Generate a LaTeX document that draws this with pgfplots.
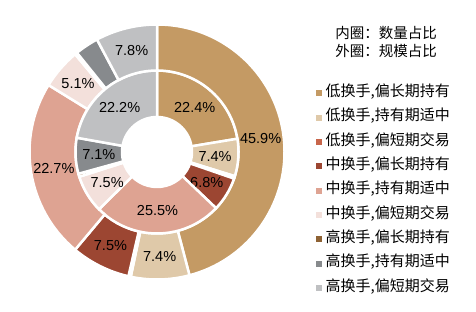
\documentclass[border=0pt]{standalone}
\usepackage{fontspec}
\setmainfont{Liberation Sans}
\newfontfamily\cjk{Noto Sans CJK SC}
\usepackage{pgfplots}
\usepackage{pgfplotstable}
\pgfplotsset{compat=1.18}

\definecolor{s0}{HTML}{C49A64}
\definecolor{s1}{HTML}{DFC9A9}
\definecolor{s2}{HTML}{C8664B}
\definecolor{s3}{HTML}{9C4632}
\definecolor{s4}{HTML}{DEA392}
\definecolor{s5}{HTML}{F3E0DB}
\definecolor{s6}{HTML}{8E6234}
\definecolor{s7}{HTML}{878A8D}
\definecolor{s8}{HTML}{BFC0C2}

% inner ring = count share, outer ring = scale share (percent)
\pgfplotstableread{
id name inner outer
0 低换手,偏长期持有 22.4 45.9
1 低换手,持有期适中 7.4 7.4
2 低换手,偏短期交易 0.5 0.3
3 中换手,偏长期持有 6.8 7.5
4 中换手,持有期适中 25.5 22.7
5 中换手,偏短期交易 7.5 5.1
6 高换手,偏长期持有 0.6 0.3
7 高换手,持有期适中 7.1 3.0
8 高换手,偏短期交易 22.2 7.8
}\donutdata

\begin{document}
\begin{tikzpicture}
\useasboundingbox (0,0) rectangle (476bp,312bp);
\begin{axis}[
  at={(0,0)}, anchor=south west,
  width=476bp, height=312bp, scale only axis,
  xmin=-157, xmax=319, ymin=-160, ymax=152,
  hide axis, clip=false,
  legend cell align=left,
  legend style={at={(axis cs:158.5,66.5)}, anchor=north west,
    draw=none, fill=none, inner sep=0pt, row sep=9.3bp, column sep=4.5bp,
    font=\cjk\fontsize{15bp}{18bp}\selectfont,
    nodes={inner sep=0pt, text height=11bp, text depth=4bp}},
]
\def\cumin{0}
\def\cumout{0}
\pgfplotsforeachungrouped \i in {0,...,8}{%
  \pgfplotstablegetelem{\i}{inner}\of\donutdata \let\vin\pgfplotsretval
  \pgfplotstablegetelem{\i}{outer}\of\donutdata \let\vout\pgfplotsretval
  % inner ring
  \pgfmathsetmacro\aa{90-3.6*\cumin}
  \pgfmathsetmacro\ab{90-3.6*(\cumin+\vin)}
  \pgfmathsetmacro\am{(\aa+\ab)/2}
  \edef\cmd{\noexpand\fill[fill=s\i, draw=white, line width=2.5bp]
    (axis cs:{81.5*cos(\aa)},{81.5*sin(\aa)}) arc[start angle=\aa, end angle=\ab, radius=81.5bp]
    -- (axis cs:{35*cos(\ab)},{35*sin(\ab)}) arc[start angle=\ab, end angle=\aa, radius=35bp] -- cycle;}
  \cmd
  \pgfmathtruncatemacro\show{\vin>=4 ? 1 : 0}
  \ifnum\show=1
    \edef\cmd{\noexpand\node[font=\noexpand\fontsize{14.5bp}{16bp}\noexpand\selectfont, inner sep=0pt]
      at (axis cs:{58.25*cos(\am)},{58.25*sin(\am)}) {\vin\noexpand\%};}
    \cmd
  \fi
  \pgfmathsetmacro\cumin{\cumin+\vin}
  % outer ring
  \pgfmathsetmacro\aa{90-3.6*\cumout}
  \pgfmathsetmacro\ab{90-3.6*(\cumout+\vout)}
  \pgfmathsetmacro\am{(\aa+\ab)/2}
  \edef\cmd{\noexpand\fill[fill=s\i, draw=white, line width=2.5bp]
    (axis cs:{127.5*cos(\aa)},{127.5*sin(\aa)}) arc[start angle=\aa, end angle=\ab, radius=127.5bp]
    -- (axis cs:{81.5*cos(\ab)},{81.5*sin(\ab)}) arc[start angle=\ab, end angle=\aa, radius=81.5bp] -- cycle;}
  \cmd
  \pgfmathtruncatemacro\show{\vout>=4 ? 1 : 0}
  \ifnum\show=1
    \edef\cmd{\noexpand\node[font=\noexpand\fontsize{14.5bp}{16bp}\noexpand\selectfont, inner sep=0pt]
      at (axis cs:{104.5*cos(\am)},{104.5*sin(\am)}) {\vout\noexpand\%};}
    \cmd
  \fi
  \pgfmathsetmacro\cumout{\cumout+\vout}
  % legend
  \pgfplotstablegetelem{\i}{name}\of\donutdata
  \edef\cmd{\noexpand\addlegendimage{legend image code/.code={\noexpand\fill[s\i] (0bp,-2.5bp) rectangle (5bp,2.5bp);}}}
  \cmd
  \addlegendentryexpanded{\pgfplotsretval}
}
\node[font=\cjk\fontsize{14.5bp}{17bp}\selectfont, inner sep=0pt] at (axis cs:229,119) {内圈：数量占比};
\node[font=\cjk\fontsize{14.5bp}{17bp}\selectfont, inner sep=0pt] at (axis cs:229,101) {外圈：规模占比};
\end{axis}
\end{tikzpicture}
\end{document}
